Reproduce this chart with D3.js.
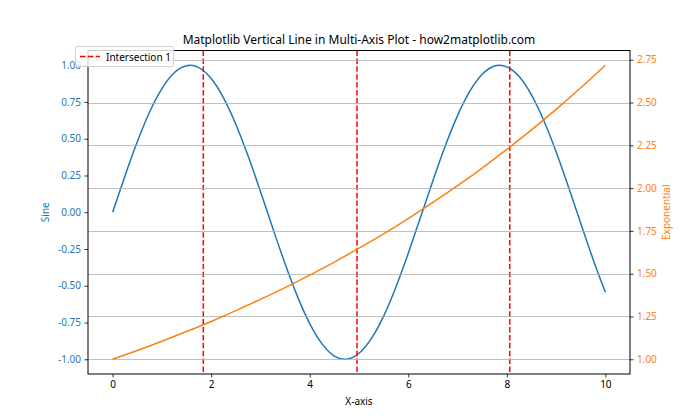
<!DOCTYPE html>
<html><head><meta charset="utf-8">
<script src="https://cdn.jsdelivr.net/npm/d3@7"></script>
<style>body{margin:0;background:#fff}svg{font-family:"Noto Sans","DejaVu Sans",sans-serif}</style>
</head><body><svg id="c" width="700" height="420"></svg>
<script>
const xSine = [0,0.25,0.5,0.75,1,1.25,1.5,1.75,2,2.25,2.5,2.75,3,3.25,3.5,3.75,4,4.25,4.5,4.75,5,5.25,5.5,5.75,6,6.25,6.5,6.75,7,7.25,7.5,7.75,8,8.25,8.5,8.75,9,9.25,9.5,9.75,10];
const sineValues = [0.000,0.247,0.479,0.682,0.841,0.949,0.997,0.984,0.909,0.778,0.598,0.382,0.141,-0.108,-0.351,-0.572,-0.757,-0.895,-0.978,-0.999,-0.959,-0.859,-0.706,-0.508,-0.279,-0.033,0.215,0.450,0.657,0.823,0.938,0.995,0.989,0.923,0.798,0.624,0.412,0.174,-0.075,-0.319,-0.544];
const xExp = [0,0.5,1,1.5,2,2.5,3,3.5,4,4.5,5,5.5,6,6.5,7,7.5,8,8.5,9,9.5,10];
const expValues = [1.000,1.051,1.105,1.162,1.221,1.284,1.350,1.419,1.492,1.568,1.649,1.733,1.822,1.916,2.014,2.117,2.226,2.340,2.460,2.586,2.718];
const vlines = [1.84,4.96,8.06];
const xTicks = [0,2,4,6,8,10];
const leftTicks = [-1.00,-0.75,-0.50,-0.25,0.00,0.25,0.50,0.75,1.00];
const rightTicks = [1.00,1.25,1.50,1.75,2.00,2.25,2.50,2.75];

const svg = d3.select("#c");
const L=88, R=630, T=50.5, B=374;
const blue="#1f77b4", orange="#ff7f0e";
const x = d3.scaleLinear().domain([-0.5,10.5]).range([L,R]);
const y1 = d3.scaleLinear().domain([-1.1,1.1]).range([B,T]);
const y2 = d3.scaleLinear().domain([0.914,2.804]).range([B,T]);

// sine line
svg.append("path").datum(d3.zip(xSine,sineValues))
  .attr("d", d3.line().x(d=>x(d[0])).y(d=>y1(d[1])).curve(d3.curveNatural))
  .attr("fill","none").attr("stroke",blue).attr("stroke-width",1.5);

// vertical lines
svg.selectAll(".vl").data(vlines).join("line")
  .attr("x1",d=>x(d)).attr("x2",d=>x(d)).attr("y1",T).attr("y2",B)
  .attr("stroke","red").attr("stroke-width",1.5).attr("stroke-dasharray","5.5,2.4");

// grid (right axis)
svg.selectAll(".g").data(rightTicks).join("line")
  .attr("x1",L).attr("x2",R).attr("y1",d=>Math.round(y2(d))+0.5).attr("y2",d=>Math.round(y2(d))+0.5)
  .attr("stroke","#b0b0b0").attr("stroke-width",0.8);

// exp line
svg.append("path").datum(d3.zip(xExp,expValues))
  .attr("d", d3.line().x(d=>x(d[0])).y(d=>y2(d[1])).curve(d3.curveNatural))
  .attr("fill","none").attr("stroke",orange).attr("stroke-width",1.5);

// axes
const fs = "10px";
const gx = svg.append("g").attr("transform",`translate(0,${B})`)
  .call(d3.axisBottom(x).tickValues(xTicks).tickFormat(d3.format("d")).tickSize(3.5).tickPadding(3.5));
const gl = svg.append("g").attr("transform",`translate(${L},0)`)
  .call(d3.axisLeft(y1).tickValues(leftTicks).tickFormat(d3.format(".2f")).tickSize(3.5).tickPadding(3.5));
const gr = svg.append("g").attr("transform",`translate(${R},0)`)
  .call(d3.axisRight(y2).tickValues(rightTicks).tickFormat(d3.format(".2f")).tickSize(3.5).tickPadding(3.5));
[gx,gl,gr].forEach(g=>{
  g.select(".domain").remove();
  g.selectAll("text").attr("font-size",fs).attr("font-family","'Noto Sans',sans-serif");
  g.selectAll("line").attr("stroke","#000").attr("stroke-width",0.8);
});
gx.selectAll("text").attr("fill","#000");
gl.selectAll("text").attr("fill",blue).text(function(){return this.textContent.replace("−","-");});
gr.selectAll("text").attr("fill",orange);

// frame
svg.append("rect").attr("x",L).attr("y",T).attr("width",R-L).attr("height",B-T)
  .attr("fill","none").attr("stroke","#000").attr("stroke-width",1);

// labels
svg.append("text").attr("x",(L+R)/2).attr("y",44).attr("text-anchor","middle")
  .attr("font-size","12px").attr("fill","#000").text("Matplotlib Vertical Line in Multi-Axis Plot - how2matplotlib.com");
svg.append("text").attr("x",(L+R)/2).attr("y",405).attr("text-anchor","middle")
  .attr("font-size","10px").attr("fill","#000").text("X-axis");
svg.append("text").attr("transform",`translate(49,${(T+B)/2}) rotate(-90)`).attr("text-anchor","middle")
  .attr("font-size","10px").attr("fill",blue).text("Sine");
svg.append("text").attr("transform",`translate(670,${(T+B)/2}) rotate(-90)`).attr("text-anchor","middle")
  .attr("font-size","10px").attr("fill",orange).text("Exponential");

// legend
const lg = svg.append("g");
lg.append("rect").attr("x",75.5).attr("y",46.5).attr("width",98).attr("height",20).attr("rx",2)
  .attr("fill","#fff").attr("fill-opacity",0.8).attr("stroke","#d0d0d0").attr("stroke-width",1);
lg.append("line").attr("x1",80).attr("x2",100).attr("y1",56.5).attr("y2",56.5)
  .attr("stroke","red").attr("stroke-width",1.5).attr("stroke-dasharray","5.5,2.4");
lg.append("text").attr("x",106).attr("y",60.5).attr("font-size","10px").attr("fill","#000").text("Intersection 1");
</script></body></html>
